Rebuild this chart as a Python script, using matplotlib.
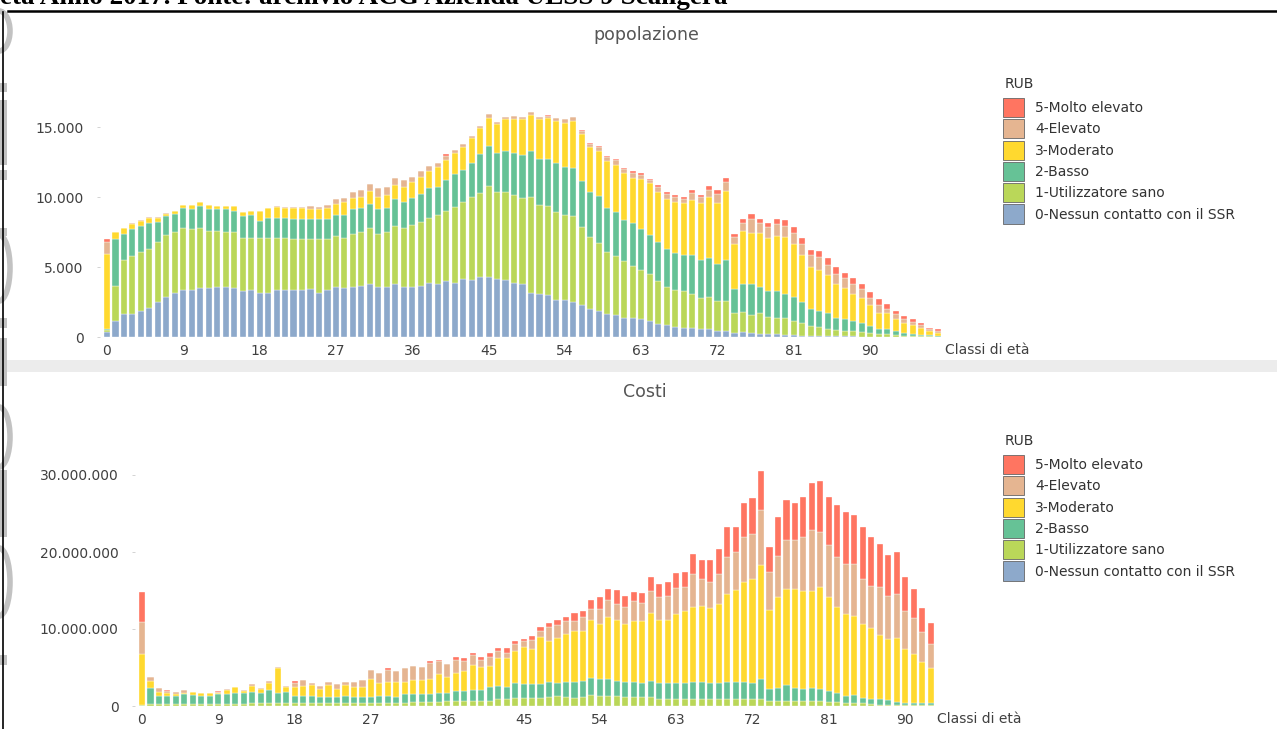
import numpy as np
import matplotlib
matplotlib.use("Agg")
import matplotlib.pyplot as plt
from matplotlib.patches import Rectangle, Arc, Patch
from matplotlib.ticker import FuncFormatter

W, H = 1277, 729

RUB = ["0-Nessun contatto con il SSR", "1-Utilizzatore sano", "2-Basso",
       "3-Moderato", "4-Elevato", "5-Molto elevato"]
COLORS = ["#8DA9CB", "#BAD759", "#66C296", "#FFD92F", "#E5B591", "#FF7561"]

# ---- popolazione, classi di eta' 0..98 (persone per classe RUB) ----
POP_AGES = list(range(99))
pop_r0 = [360, 1140, 1670, 1670, 1860, 2050, 2480, 2860, 3140, 3360,
          3360, 3480, 3480, 3570, 3570, 3480, 3260, 3360, 3170, 3170,
          3360, 3360, 3360, 3360, 3450, 3170, 3360, 3570, 3480, 3570,
          3670, 3760, 3570, 3570, 3760, 3570, 3570, 3670, 3860, 3760,
          3980, 3860, 4170, 4050, 4290, 4290, 4170, 4100, 3880, 3790,
          3170, 3070, 2980, 2670, 2670, 2480, 2260, 1980, 1860, 1670,
          1550, 1360, 1360, 1260, 1140, 950, 830, 740, 640, 640,
          550, 550, 450, 450, 290, 360, 290, 240, 190, 190,
          140, 140, 100, 100, 100, 70, 70, 50, 50, 30,
          30, 20, 20, 10, 10, 10, 0, 0, 0]
pop_r1 = [160, 2530, 3810, 4090, 4240, 4240, 4330, 4450, 4360, 4430,
          4330, 4330, 4120, 4030, 3930, 4020, 3840, 3740, 3930, 3930,
          3740, 3740, 3640, 3640, 3550, 3830, 3640, 3640, 3620, 3810,
          3830, 4050, 3810, 3930, 4140, 4240, 4430, 4540, 4640, 4950,
          5020, 5450, 5450, 5950, 6020, 6470, 6160, 6260, 6260, 6160,
          6850, 6360, 6380, 6260, 6040, 6140, 5570, 5140, 4850, 4430,
          4260, 4040, 3740, 3530, 3360, 3050, 2770, 2640, 2650, 2430,
          2240, 2330, 2120, 2120, 1400, 1430, 1310, 1450, 1260, 1190,
          1220, 1030, 880, 690, 590, 530, 430, 400, 350, 300,
          230, 190, 170, 130, 90, 90, 70, 50, 30]
pop_r2 = [50, 3330, 1900, 1950, 1800, 1850, 1430, 1310, 1310, 1450,
          1430, 1520, 1520, 1520, 1620, 1520, 1520, 1610, 1210, 1420,
          1420, 1420, 1400, 1400, 1400, 1400, 1400, 1500, 1610, 1740,
          1710, 1710, 1740, 1710, 1930, 1810, 1930, 2030, 2140, 2030,
          2240, 2330, 2330, 2450, 2740, 2910, 2810, 2930, 2980, 3050,
          3270, 3260, 3330, 3470, 3460, 3450, 3340, 3240, 3340, 3140,
          3140, 2960, 3020, 2920, 2810, 2810, 2710, 2640, 2540, 2760,
          2730, 2760, 2670, 2950, 1710, 2020, 2210, 1910, 1840, 1910,
          1710, 1710, 1500, 1190, 1190, 1090, 880, 810, 740, 650,
          530, 360, 380, 310, 160, 110, 100, 70, 40]
pop_r3 = [5330, 500, 380, 390, 410, 380, 280, 190, 190, 190,
          310, 290, 310, 210, 210, 310, 280, 290, 690, 690,
          790, 690, 810, 810, 720, 720, 810, 810, 910, 810,
          810, 910, 900, 910, 1000, 1120, 1120, 1190, 1190, 1400,
          1400, 1500, 1600, 1790, 1900, 2000, 2100, 2310, 2480, 2550,
          2590, 2860, 2930, 3050, 3140, 3330, 3330, 3240, 3240, 3330,
          3340, 3330, 3260, 3580, 3670, 3570, 3570, 3650, 3720, 3960,
          4030, 4340, 4330, 4880, 3240, 3740, 3640, 3850, 3760, 3950,
          4070, 3760, 3350, 3040, 2930, 2710, 2430, 2240, 1960, 1810,
          1500, 1120, 1120, 810, 720, 650, 500, 330, 190]
pop_r4 = [890, 20, 20, 20, 20, 20, 20, 20, 20, 20,
          20, 20, 20, 20, 20, 20, 20, 30, 30, 40,
          50, 50, 60, 80, 210, 190, 220, 310, 310, 400,
          500, 520, 620, 620, 500, 500, 400, 400, 410, 310,
          310, 220, 210, 90, 150, 230, 120, 90, 210, 140,
          220, 140, 190, 220, 290, 290, 210, 190, 310, 310,
          350, 310, 310, 280, 210, 310, 310, 310, 330, 470,
          430, 520, 620, 670, 500, 620, 1000, 690, 810, 810,
          810, 810, 810, 810, 900, 720, 690, 690, 710, 610,
          500, 620, 330, 410, 280, 210, 190, 100, 140]
pop_r5 = [210, 0, 0, 0, 0, 0, 0, 0, 0, 0,
          0, 0, 0, 0, 0, 0, 0, 0, 0, 0,
          0, 0, 0, 0, 0, 0, 0, 0, 0, 0,
          0, 0, 0, 0, 0, 0, 0, 0, 0, 0,
          100, 0, 0, 0, 0, 0, 0, 0, 0, 50,
          0, 50, 50, 0, 0, 0, 90, 90, 50, 50,
          60, 100, 190, 120, 100, 170, 140, 160, 120, 240,
          160, 290, 290, 310, 190, 280, 310, 310, 280, 400,
          410, 410, 410, 380, 410, 500, 500, 410, 380, 390,
          400, 380, 360, 210, 220, 190, 120, 90, 150]

# ---- Costi, classi di eta' 0..93 (milioni di euro per classe RUB) ----
COST_AGES = list(range(94))
cost_r0 = [0.0] * 94
cost_r1 = [0.1, 0.3, 0.3, 0.3, 0.3, 0.3, 0.3, 0.3, 0.3, 0.3,
           0.3, 0.3, 0.3, 0.4, 0.4, 0.4, 0.4, 0.4, 0.4, 0.4,
           0.4, 0.4, 0.4, 0.4, 0.4, 0.4, 0.4, 0.4, 0.4, 0.4,
           0.4, 0.4, 0.5, 0.5, 0.5, 0.5, 0.6, 0.6, 0.6, 0.6,
           0.7, 0.7, 0.85, 0.95, 1.1, 1.08, 1.1, 1.1, 1.17, 1.25,
           1.17, 1.08, 1.17, 1.43, 1.25, 1.25, 1.25, 1.17, 1.17, 1.17,
           1.17, 0.95, 0.95, 0.95, 0.95, 0.95, 0.95, 0.95, 0.95, 0.95,
           0.95, 0.95, 0.95, 0.95, 0.6, 0.6, 0.6, 0.6, 0.6, 0.6,
           0.6, 0.5, 0.5, 0.35, 0.35, 0.35, 0.26, 0.17, 0.17, 0.17,
           0.1, 0.1, 0.1, 0.1]
cost_r2 = [0.0, 2.0, 1.0, 1.0, 1.0, 1.2, 1.1, 1.0, 1.0, 1.2,
           1.2, 1.42, 1.42, 1.45, 1.32, 1.67, 1.32, 1.45, 0.92, 0.92,
           0.92, 0.75, 0.75, 0.75, 0.92, 0.75, 0.75, 0.75, 0.92, 0.92,
           0.75, 1.1, 1.0, 1.0, 1.0, 1.22, 1.12, 1.3, 1.3, 1.47,
           1.37, 1.77, 1.79, 1.52, 1.9, 1.72, 1.8, 1.7, 1.93, 1.69,
           1.93, 2.02, 2.13, 2.25, 2.21, 2.21, 2.05, 1.93, 1.93, 1.77,
           2.13, 1.99, 1.99, 1.99, 1.99, 2.15, 2.15, 1.99, 1.99, 2.15,
           2.15, 2.15, 1.99, 2.51, 1.6, 1.78, 2.13, 1.78, 1.6, 1.78,
           1.6, 1.5, 1.15, 0.95, 1.12, 0.73, 0.64, 0.73, 0.57, 0.39,
           0.25, 0.25, 0.25, 0.25]
cost_r3 = [6.6, 0.9, 0.55, 0.37, 0.24, 0.22, 0.4, 0.33, 0.33, 0.22,
           0.6, 0.7, 0.26, 0.79, 0.48, 0.93, 3.28, 0.62, 1.15, 1.32,
           1.37, 1.1, 1.54, 1.1, 1.37, 1.32, 1.32, 2.42, 1.68, 1.85,
           2.02, 1.67, 1.9, 1.9, 2.07, 2.42, 2.02, 2.4, 2.6, 3.22,
           3.0, 2.77, 3.53, 3.7, 4.14, 4.85, 4.5, 6.1, 5.4, 5.89,
           6.3, 6.64, 6.44, 7.52, 7.19, 8.1, 7.9, 7.55, 7.9, 8.06,
           8.8, 8.26, 8.26, 9.01, 9.36, 9.76, 9.9, 9.76, 10.31, 11.4,
           12.0, 13.05, 13.56, 14.89, 10.27, 11.78, 12.47, 12.82, 12.7, 12.52,
           13.2, 12.16, 11.21, 10.65, 10.23, 9.57, 9.2, 8.3, 7.92, 8.27,
           7.01, 6.45, 5.35, 4.65]
cost_r4 = [4.2, 0.55, 0.48, 0.23, 0.31, 0.31, 0.05, 0.05, 0.05, 0.08,
           0.15, 0.05, 0.09, 0.18, 0.13, 0.2, 0.1, 0.13, 0.57, 0.76,
           0.31, 0.39, 0.48, 0.57, 0.48, 0.7, 0.93, 1.13, 1.3, 1.53,
           1.33, 1.73, 1.84, 1.67, 2.07, 1.66, 1.72, 1.73, 1.36, 1.27,
           0.96, 1.16, 0.93, 0.73, 0.92, 0.85, 1.2, 0.9, 1.8, 1.67,
           1.6, 1.26, 1.82, 1.4, 1.95, 2.24, 2.05, 2.21, 2.6, 2.4,
           2.8, 2.96, 3.13, 3.35, 3.1, 4.24, 3.5, 3.45, 3.85, 4.8,
           4.9, 5.75, 5.9, 7.05, 4.98, 5.34, 6.3, 6.3, 7.0, 7.9,
           7.2, 6.79, 6.44, 6.45, 6.7, 5.85, 5.5, 6.2, 5.67, 5.67,
           4.94, 4.6, 3.87, 3.1]
cost_r5 = [3.9, 0.0, 0.0, 0.17, 0.0, 0.0, 0.0, 0.0, 0.0, 0.1,
           0.0, 0.0, 0.0, 0.0, 0.0, 0.0, 0.0, 0.0, 0.16, 0.0,
           0.05, 0.0, 0.0, 0.0, 0.0, 0.0, 0.0, 0.0, 0.0, 0.2,
           0.0, 0.0, 0.0, 0.0, 0.16, 0.23, 0.05, 0.37, 0.31, 0.34,
           0.37, 0.5, 0.4, 0.6, 0.39, 0.2, 0.5, 0.4, 0.5, 0.7,
           0.56, 1.1, 0.74, 1.2, 1.6, 1.4, 1.85, 1.47, 1.25, 1.3,
           1.8, 1.64, 1.82, 1.97, 2.05, 2.7, 2.4, 2.75, 3.3, 3.9,
           3.2, 4.4, 4.6, 5.1, 3.25, 5.0, 5.3, 4.8, 5.3, 6.2,
           6.6, 6.25, 6.8, 6.8, 6.4, 6.7, 6.4, 5.7, 5.32, 5.5,
           4.4, 3.8, 3.13, 2.7]

POP_TICKS = [0, 5000, 10000, 15000]
COST_TICKS = [0, 10, 20, 30]          # milioni
X_TICKS = list(range(0, 91, 9))

TXT = "#404040"
plt.rcParams.update({"font.family": "DejaVu Sans", "font.size": 10})


def box(l, t, r, b):
    """pixel box (left, top, right, bottom) -> figure fraction rect"""
    return [l / W, 1 - b / H, (r - l) / W, (b - t) / H]


def stacked(ax, ages, series, scale=1.0):
    bottom = np.zeros(len(ages))
    for vals, col in zip(series, COLORS):
        v = np.asarray(vals, float) * scale
        ax.bar(ages, v, bottom=bottom, width=0.72, color=col,
               edgecolor="white", linewidth=0.25)
        bottom += v


def style(ax, xmax, yticks, fmt):
    for s in ax.spines.values():
        s.set_visible(False)
    ax.set_xlim(-0.8, xmax)
    ax.set_xticks(X_TICKS)
    ax.set_yticks(yticks)
    ax.yaxis.set_major_formatter(FuncFormatter(fmt))
    ax.tick_params(axis="x", length=0, pad=5, colors=TXT, labelsize=10)
    ax.tick_params(axis="y", length=2, width=0.6, color="#cccccc", pad=10,
                   labelcolor=TXT, labelsize=10)
    # axis title sits at the right end of the tick-label row, 13 px below
    ax.annotate("Classi di età", xy=(1.0, 0), xycoords="axes fraction",
                xytext=(0, -13), textcoords="offset pixels", ha="left",
                va="center", fontsize=10, color=TXT)


def dotted(v):
    return f"{v:,.0f}".replace(",", ".")


def legend(fig, title_y):
    fig.text(1005 / W, 1 - title_y / H, "RUB", ha="left", va="center",
             fontsize=10, color="#333333")
    handles = [Patch(facecolor=c, edgecolor="#666666", linewidth=0.6, label=l)
               for c, l in zip(COLORS[::-1], RUB[::-1])]
    fig.legend(handles=handles, loc="upper left",
               bbox_to_anchor=(1003 / W, 1 - (title_y + 14) / H), frameon=False,
               fontsize=10, handlelength=1.5, handleheight=1.75,
               labelspacing=0.15, handletextpad=0.8, borderpad=0,
               borderaxespad=0, labelcolor="#333333")


fig = plt.figure(figsize=(W / 100, H / 100), dpi=100)

# ---- popolazione ----
ax1 = fig.add_axes(box(100.2, 99, 944.8, 337))
stacked(ax1, POP_AGES, [pop_r0, pop_r1, pop_r2, pop_r3, pop_r4, pop_r5])
ax1.set_ylim(0, 17000)
style(ax1, 98.8, POP_TICKS, lambda v, p: dotted(v))
fig.text(646 / W, 1 - 35 / H, "popolazione", ha="center", va="center",
         fontsize=12.5, color="#555555")
legend(fig, 84)

# ---- Costi ----
ax2 = fig.add_axes(box(135.2, 459.6, 937.4, 706))
stacked(ax2, COST_AGES, [cost_r0, cost_r1, cost_r2, cost_r3, cost_r4, cost_r5],
        scale=1e6)
ax2.set_ylim(0, 32e6)
style(ax2, 93.8, [t * 1e6 for t in COST_TICKS], lambda v, p: dotted(v))
fig.text(645 / W, 1 - 392 / H, "Costi", ha="center", va="center",
         fontsize=12.5, color="#555555")
legend(fig, 441)

# ---- page furniture (scanned document around the charts) ----
fig.add_artist(Rectangle((5 / W, 1 - 372 / H), 1, 12 / H, transform=fig.transFigure,
                         facecolor="#ececec", edgecolor="none"))
fig.add_artist(plt.Line2D([8 / W, 1], [1 - 10.5 / H] * 2, color="black", lw=1.8,
                          transform=fig.transFigure))
fig.text(0.0, 1 - 4 / H,
         "età Anno 2017. Fonte: archivio ACG Azienda ULSS 9 Scaligera",
         ha="left", va="baseline", fontsize=19.5, fontweight="bold",
         family="Liberation Serif")
fig.add_artist(plt.Line2D([2.5 / W] * 2, [0, 1 - 12 / H], color="black", lw=1.2,
                          transform=fig.transFigure))
for y0, y1 in [(83, 92), (100, 165), (170, 180), (228, 236), (318, 328),
               (338, 386), (470, 537), (655, 665)]:
    fig.add_artist(Rectangle((0, 1 - y1 / H), 7 / W, (y1 - y0) / H,
                             transform=fig.transFigure, facecolor="#c2c2c2",
                             edgecolor="none"))
for yc, h in [(31, 40), (268, 66), (437, 60), (582, 68)]:
    fig.add_artist(Arc((-1 / W, 1 - yc / H), 22 / W, h / H, theta1=-90, theta2=90,
                       transform=fig.transFigure, color="#c2c2c2", lw=4))

fig.savefig("out.png", dpi=100)
